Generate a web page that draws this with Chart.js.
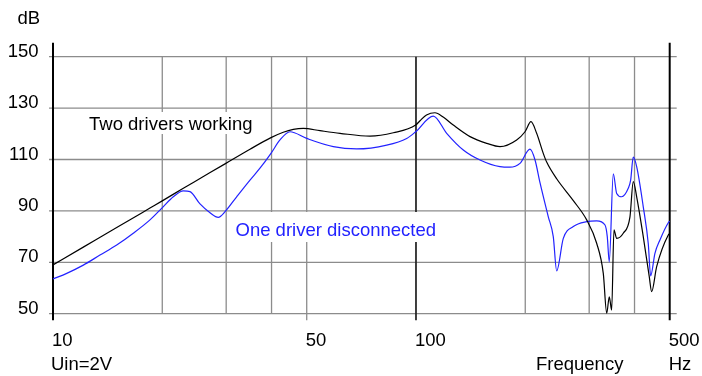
<!DOCTYPE html>
<html>
<head>
<meta charset="utf-8">
<script src="https://cdn.jsdelivr.net/npm/chart.js@4/dist/chart.umd.min.js"></script>
<style>
  html, body { margin: 0; padding: 0; background: #fff; }
  #wrap { width: 702px; height: 376px; position: relative; }
</style>
</head>
<body>
<div id="wrap"><canvas id="c"></canvas></div>
<script>
// Sound pressure level vs. frequency, both drivers working
const freqTwo = [10, 12.12, 14.98, 18.5, 20.05, 22.86, 25.41, 29.78, 34.89, 39.86, 43.09, 45.92, 48.92, 54.4,
  61.75, 74.69, 86.6, 99.8, 102.6, 106.9, 112.8, 119.1, 126.7, 140.9, 156.6, 170.4, 189.4, 199.7, 207.4,
  215.0, 224.2, 229.1, 244.1, 271.3, 295.3, 314.6, 328.1, 335.3, 340.8, 346.0, 351.1, 357.2, 372.4, 388.6,
  396.8, 405.5, 422.8, 439.2, 445.9, 460.3, 495.5, 500];
const dbTwo = [69.0, 75.9, 83.5, 91.1, 94.0, 98.8, 102.6, 108.3, 114.0, 118.5, 120.6, 121.7, 122.1, 121.2,
  120.2, 119.1, 120.4, 123.4, 125.1, 127.3, 128.2, 126.4, 123.4, 118.9, 116.3, 115.0, 117.6, 120.8, 124.7,
  120.2, 112.4, 109.0, 102.5, 94.0, 86.5, 77.4, 65.7, 50.2, 56.6, 51.4, 82.6, 79.3, 81.3, 87.7,
  101.4, 95.5, 80.0, 64.4, 58.6, 68.3, 80.6, 81.2];

// Same measurement with one driver disconnected
const freqOne = [10, 10.91, 12.12, 13.47, 14.98, 16.64, 18.5, 20.05, 21.45, 22.86, 23.85, 25.41, 27.07, 28.54,
  29.78, 32.06, 34.89, 37.17, 39.86, 42.2, 44.97, 50.0, 59.18, 68.65, 83.05, 94.28, 99.8, 111.6, 121.5,
  135.0, 150.1, 170.4, 181.5, 193.4, 206.1, 212.8, 219.6, 231.5, 238.9, 244.1, 254.6, 271.3, 295.3, 314.6,
  331.7, 336.5, 340.8, 349.6, 357.2, 368.7, 384.4, 390.3, 396.8, 405.5, 422.8, 436.4, 443.1, 455.3, 470.0,
  495.5, 500];
const dbOne = [63.5, 65.7, 68.9, 72.8, 76.7, 81.3, 86.5, 91.4, 95.5, 97.8, 97.5, 92.7, 89.3, 87.5,
  89.7, 95.5, 102.0, 106.6, 112.4, 117.6, 120.8, 118.2, 115.0, 114.1, 115.6, 118.2, 120.8, 126.9, 120.2,
  113.7, 109.8, 107.2, 107.0, 108.5, 114.0, 109.8, 101.0, 87.7, 80.0, 66.7, 79.3, 83.9, 85.8, 86.1,
  84.5, 80.0, 70.2, 104.4, 96.8, 95.5, 98.8, 102.0, 110.9, 107.2, 91.6, 77.3, 64.7, 73.5, 78.7,
  85.4, 86.0];

// Axis ticks and grid
const dbTicks = [50, 70, 90, 110, 130, 150];
const freqGrid = [10, 20, 30, 40, 50, 100, 200, 300, 400, 500];
const freqLabelled = [10, 50, 100, 500];
const freqTickLabels = ['10', '50', '100', '500'];

const FONT = "18.5px 'Liberation Sans', Arial, sans-serif";
const BLUE = '#2222ff';

const toPoints = (xs, ys) => xs.map((f, i) => ({ x: f, y: ys[i] }));

const labelBoxes = [
  { text: 'Two drivers working', color: '#000', x: 89, y: 130, box: [86, 112, 172, 22] },
  { text: 'One driver disconnected', color: BLUE, x: 235.5, y: 236, box: [233, 212, 207, 30] }
];

const frame = {
  id: 'frame',
  beforeDraw(chart) {
    const { ctx, width, height } = chart;
    ctx.save();
    ctx.fillStyle = '#fff';
    ctx.fillRect(0, 0, width, height);
    ctx.restore();
  },
  beforeDatasetsDraw(chart) {
    const { ctx, chartArea: a, scales: { x, y } } = chart;
    ctx.save();
    // horizontal grid lines with short ticks on the left
    ctx.strokeStyle = '#8c8c8c';
    ctx.lineWidth = 1.3;
    dbTicks.forEach(v => {
      const py = y.getPixelForValue(v);
      ctx.beginPath();
      ctx.moveTo(a.left - 4, py);
      ctx.lineTo(a.right + 7, py);
      ctx.stroke();
    });
    // vertical grid lines; outer frame lines reach above the top grid line
    const yTop = y.getPixelForValue(150);
    const yBot = y.getPixelForValue(50);
    freqGrid.forEach(f => {
      const px = x.getPixelForValue(f);
      const edge = f === 10 || f === 500;
      const major = freqLabelled.includes(f);
      ctx.strokeStyle = edge ? '#000' : (f === 100 ? '#1e1e1e' : '#8c8c8c');
      ctx.lineWidth = edge ? 2 : (f === 100 ? 1.7 : 1.3);
      ctx.beginPath();
      ctx.moveTo(px, edge ? yTop - 14 : yTop);
      ctx.lineTo(px, yBot + (major ? 6.5 : 0));
      ctx.stroke();
    });
    // series captions on white boxes
    ctx.font = FONT;
    ctx.textBaseline = 'alphabetic';
    ctx.textAlign = 'left';
    labelBoxes.forEach(l => {
      ctx.fillStyle = '#fff';
      ctx.fillRect(l.box[0], l.box[1], l.box[2], l.box[3]);
      ctx.fillStyle = l.color;
      ctx.fillText(l.text, l.x, l.y);
    });
    ctx.restore();
  },
  afterDraw(chart) {
    const { ctx, scales: { x, y } } = chart;
    ctx.save();
    ctx.font = FONT;
    ctx.fillStyle = '#000';
    ctx.textBaseline = 'alphabetic';
    // dB scale
    ctx.textAlign = 'right';
    dbTicks.forEach(v => ctx.fillText(String(v), 38.5, y.getPixelForValue(v)));
    ctx.textAlign = 'left';
    ctx.fillText('dB', 17.5, 24.3);
    // frequency scale
    freqLabelled.forEach((f, i) => ctx.fillText(freqTickLabels[i], x.getPixelForValue(f) - 1, 345.7));
    ctx.fillText('Uin=2V', 51, 370);
    ctx.fillText('Frequency', 536, 370);
    ctx.fillText('Hz', x.getPixelForValue(500) - 1, 370);
    ctx.restore();
  }
};

new Chart(document.getElementById('c'), {
  type: 'line',
  data: {
    datasets: [
      {
        label: 'Two drivers working',
        data: toPoints(freqTwo, dbTwo),
        borderColor: '#000',
        borderWidth: 1.2,
        pointRadius: 0,
        cubicInterpolationMode: 'monotone',
        clip: false
      },
      {
        label: 'One driver disconnected',
        data: toPoints(freqOne, dbOne),
        borderColor: BLUE,
        borderWidth: 1.2,
        pointRadius: 0,
        cubicInterpolationMode: 'monotone',
        clip: false
      }
    ]
  },
  options: {
    responsive: true,
    maintainAspectRatio: false,
    devicePixelRatio: 1,
    animation: false,
    events: [],
    layout: { padding: { left: 53, right: 32.3, top: 56.7, bottom: 62.3 } },
    plugins: { legend: { display: false }, tooltip: { enabled: false } },
    scales: {
      x: { type: 'logarithmic', min: 10, max: 500, display: false },
      y: { type: 'linear', min: 50, max: 150, display: false }
    }
  },
  plugins: [frame]
});
</script>
</body>
</html>
